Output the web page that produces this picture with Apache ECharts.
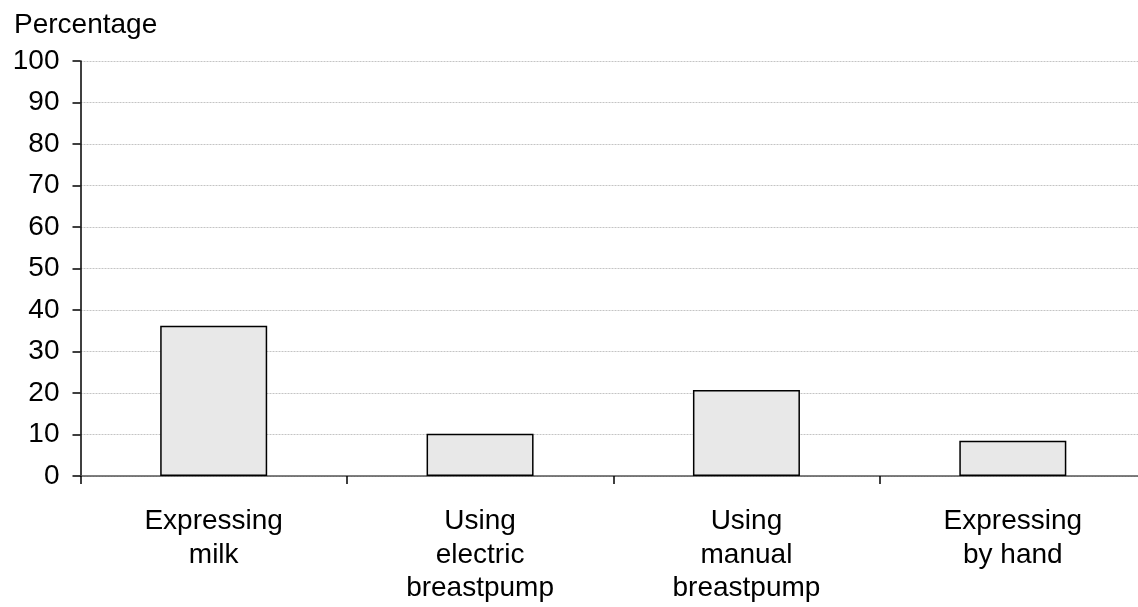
<!DOCTYPE html>
<html>
<head>
<meta charset="utf-8">
<script src="https://cdn.jsdelivr.net/npm/echarts@6/dist/echarts.min.js"></script>
<style>html,body{margin:0;padding:0;background:#fff;overflow:hidden;width:1138px;height:607px;}#c{width:1146px;height:607px;}</style>
</head>
<body>
<div id="c"></div>
<script>
const categories = ['Expressing\nmilk', 'Using\nelectric\nbreastpump', 'Using\nmanual\nbreastpump', 'Expressing\nby hand'];
const values = [36.2, 10.2, 20.7, 8.5];
const yTicks = { min: 0, max: 100, interval: 10 };
const yName = 'Percentage';

const chart = echarts.init(document.getElementById('c'));
const font = '"Liberation Sans", Arial, sans-serif';
chart.setOption({
  animation: false,
  backgroundColor: '#fff',
  title: {
    text: yName, left: 9, top: 6,
    textStyle: { fontFamily: font, fontSize: 28, fontWeight: 'normal', color: '#000' }
  },
  grid: { left: 80.5, top: 61, right: 0, bottom: 131, containLabel: false },
  xAxis: {
    type: 'category',
    data: categories,
    axisLine: { lineStyle: { color: '#555', width: 1.5 } },
    axisTick: { show: true, length: 8, lineStyle: { color: '#000', width: 1.5 } },
    axisLabel: { fontFamily: font, fontSize: 28, color: '#000', margin: 29, lineHeight: 33.5, interval: 0 },
    splitLine: { show: false }
  },
  yAxis: {
    type: 'value',
    min: yTicks.min, max: yTicks.max, interval: yTicks.interval,
    axisLine: { show: true, lineStyle: { color: '#000', width: 1.5 } },
    axisTick: { show: true, length: 8, lineStyle: { color: '#000', width: 1.5 } },
    axisLabel: { fontFamily: font, fontSize: 28, color: '#000', margin: 21 },
    splitLine: { show: true, lineStyle: { color: '#c4c4c4', type: [2, 1], width: 1 } }
  },
  series: [{
    type: 'bar',
    data: values,
    barWidth: 107,
    itemStyle: { color: '#e8e8e8', borderColor: '#000', borderWidth: 1.5 }
  }]
});
</script>
</body>
</html>
